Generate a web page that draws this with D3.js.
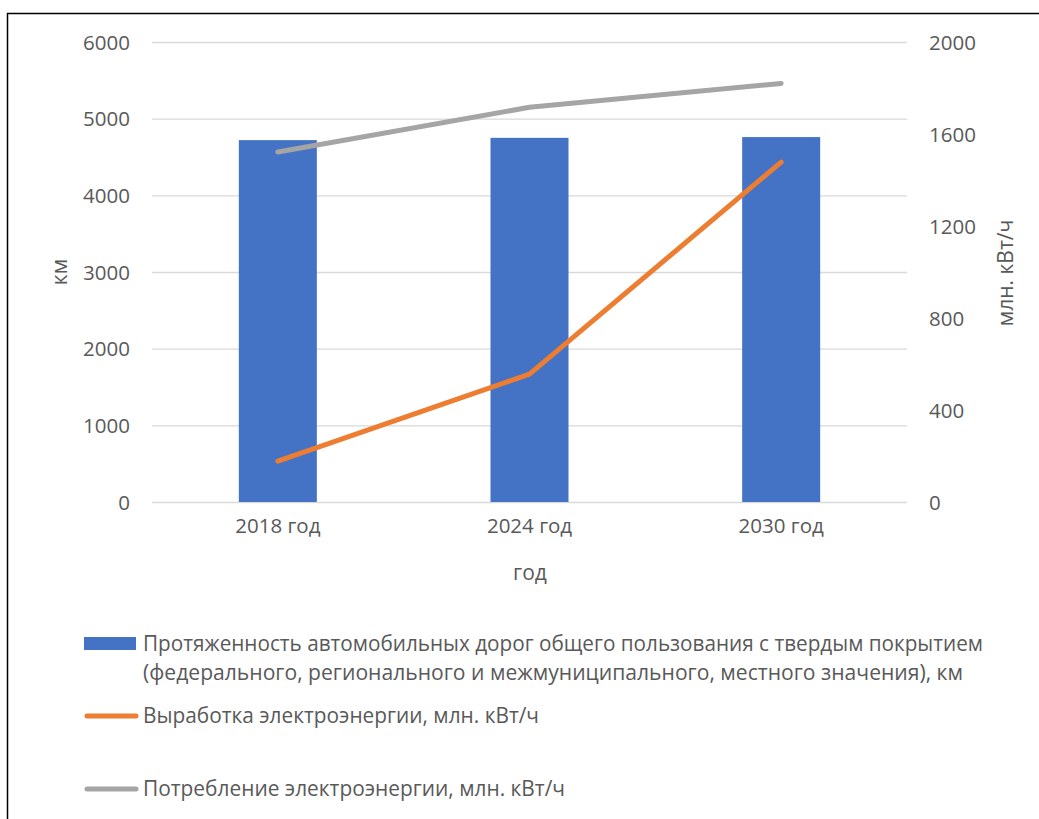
<!DOCTYPE html>
<html>
<head>
<meta charset="utf-8">
<script src="https://cdn.jsdelivr.net/npm/d3@7"></script>
<style>
  body { margin: 0; background: #fff; }
  svg text { font-family: "Open Sans", sans-serif; fill: #595959; }
</style>
</head>
<body>
<script>
// Chart data
const years = ["2018 год", "2024 год", "2030 год"];
const roads = [4720, 4750, 4760];          // км, left axis
const production = [178, 556, 1478];       // млн. кВт/ч, right axis
const consumption = [1522, 1716, 1820];    // млн. кВт/ч, right axis
const leftTicks = [0, 1000, 2000, 3000, 4000, 5000, 6000];
const rightTicks = [0, 400, 800, 1200, 1600, 2000];

const legendRoads = ["Протяженность автомобильных дорог общего пользования с твердым покрытием",
                     "(федерального, регионального и межмуниципального, местного значения), км"];
const legendProd = "Выработка электроэнергии, млн. кВт/ч";
const legendCons = "Потребление электроэнергии, млн. кВт/ч";

const w = 1039, h = 819;
const plotLeft = 152, plotRight = 907, plotTop = 42, plotBottom = 502;

const blue = "#4472C4", orange = "#ED7D31", gray = "#A5A5A5", grid = "#D9D9D9";
const tickSize = "20.5px", titleSize = "21px", legendSize = "21px";

const svg = d3.select("body").append("svg")
  .attr("width", w)
  .attr("height", h);

// outer frame (cut off on right and bottom like the source)
svg.append("rect")
  .attr("x", 7.5).attr("y", 13.5)
  .attr("width", 1200).attr("height", 1000)
  .attr("fill", "none")
  .attr("stroke", "#000")
  .attr("stroke-width", 1.5);

// scales
const x = d3.scaleBand()
  .domain(years)
  .range([plotLeft, plotRight])
  .paddingInner(0.69)
  .paddingOuter(0.345);

const yLeft = d3.scaleLinear().domain([0, 6000]).range([plotBottom, plotTop]);
const yRight = d3.scaleLinear().domain([0, 2000]).range([plotBottom, plotTop]);

const cx = d => x(d) + x.bandwidth() / 2;

// gridlines
svg.append("g")
  .selectAll("line")
  .data(leftTicks)
  .enter()
  .append("line")
  .attr("x1", plotLeft).attr("x2", plotRight)
  .attr("y1", d => yLeft(d) + 0.5).attr("y2", d => yLeft(d) + 0.5)
  .attr("stroke", grid)
  .attr("stroke-width", 1.3);

// left axis
const yAxisL = d3.axisLeft(yLeft).tickValues(leftTicks).tickFormat(d3.format("d"))
  .tickSize(0).tickPadding(0);
const gL = svg.append("g")
  .attr("transform", "translate(" + 130 + ",0)")
  .call(yAxisL);
gL.select(".domain").remove();
gL.selectAll("text").style("font-size", tickSize).attr("dy", "0.35em").attr("fill", "#595959");

// right axis
const yAxisR = d3.axisRight(yRight).tickValues(rightTicks).tickFormat(d3.format("d"))
  .tickSize(0).tickPadding(0);
const gR = svg.append("g")
  .attr("transform", "translate(" + 929 + ",0)")
  .call(yAxisR);
gR.select(".domain").remove();
gR.selectAll("text").style("font-size", tickSize).attr("dy", "0.35em").attr("fill", "#595959");

// x axis labels
const xAxis = d3.axisBottom(x).tickSize(0).tickPadding(0);
const gX = svg.append("g")
  .attr("transform", "translate(0," + 518 + ")")
  .call(xAxis);
gX.select(".domain").remove();
gX.selectAll("text").style("font-size", tickSize).attr("dy", "0.71em").attr("fill", "#595959");

// axis titles
svg.append("text")
  .attr("x", 530).attr("y", 580)
  .attr("text-anchor", "middle")
  .style("font-size", titleSize)
  .text("год");

svg.append("text")
  .attr("transform", "translate(67,272) rotate(-90)")
  .attr("text-anchor", "middle")
  .style("font-size", titleSize)
  .text("км");

svg.append("text")
  .attr("transform", "translate(1013,273) rotate(-90)")
  .attr("text-anchor", "middle")
  .style("font-size", titleSize)
  .text("млн. кВт/ч");

// bars
svg.selectAll("rect.bar")
  .data(roads)
  .enter()
  .append("rect")
  .attr("class", "bar")
  .attr("x", (d, i) => x(years[i]))
  .attr("y", d => yLeft(d))
  .attr("width", x.bandwidth())
  .attr("height", d => plotBottom - yLeft(d))
  .attr("fill", blue);

// lines
const line = d3.line()
  .x((d, i) => cx(years[i]))
  .y(d => yRight(d));

svg.append("path")
  .datum(consumption)
  .attr("d", line)
  .attr("fill", "none")
  .attr("stroke", gray)
  .attr("stroke-width", 5)
  .attr("stroke-linecap", "round")
  .attr("stroke-linejoin", "round");

svg.append("path")
  .datum(production)
  .attr("d", line)
  .attr("fill", "none")
  .attr("stroke", orange)
  .attr("stroke-width", 5)
  .attr("stroke-linecap", "round")
  .attr("stroke-linejoin", "round");

// legend
const lg = svg.append("g");

lg.append("rect")
  .attr("x", 84).attr("y", 637)
  .attr("width", 52).attr("height", 13)
  .attr("fill", blue);

lg.append("text")
  .attr("x", 143).attr("y", 651)
  .attr("textLength", 840).attr("lengthAdjust", "spacingAndGlyphs")
  .style("font-size", legendSize)
  .text(legendRoads[0]);

lg.append("text")
  .attr("x", 143).attr("y", 680)
  .attr("textLength", 820).attr("lengthAdjust", "spacingAndGlyphs")
  .style("font-size", legendSize)
  .text(legendRoads[1]);

lg.append("line")
  .attr("x1", 87).attr("x2", 136)
  .attr("y1", 716).attr("y2", 716)
  .attr("stroke", orange).attr("stroke-width", 5)
  .attr("stroke-linecap", "round");

lg.append("text")
  .attr("x", 143).attr("y", 723)
  .attr("textLength", 396).attr("lengthAdjust", "spacingAndGlyphs")
  .style("font-size", legendSize)
  .text(legendProd);

lg.append("line")
  .attr("x1", 87).attr("x2", 136)
  .attr("y1", 789).attr("y2", 789)
  .attr("stroke", gray).attr("stroke-width", 5)
  .attr("stroke-linecap", "round");

lg.append("text")
  .attr("x", 143).attr("y", 796)
  .attr("textLength", 422).attr("lengthAdjust", "spacingAndGlyphs")
  .style("font-size", legendSize)
  .text(legendCons);
</script>
</body>
</html>
